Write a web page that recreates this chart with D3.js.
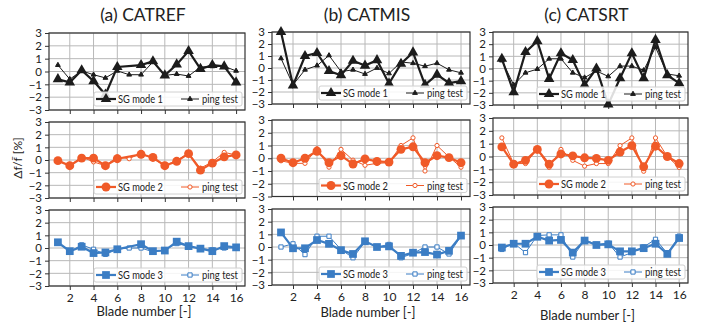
<!DOCTYPE html>
<head>
    <meta charset="utf-8">
    <script src="https://d3js.org/d3.v7.min.js"></script>
</head>
<body style="margin:0;background:#fff">
    <svg class="chart" width="709" height="329"></svg>
</body>
<script>

// blade numbers and axis ticks
var blades = [1, 2, 3, 4, 5, 6, 7, 8, 9, 10, 11, 12, 13, 14, 15, 16];
var xTicks = [2, 4, 6, 8, 10, 12, 14, 16];
var yTicks = [-3, -2, -1, 0, 1, 2, 3];
var titles = ["(a) CATREF", "(b) CATMIS", "(c) CATSRT"];
var sgNames = ["SG mode 1", "SG mode 2", "SG mode 3"];

// (a) CATREF  (blade 7 has no SG value)
var refSg1   = [-0.6, -0.85, 0.1, -0.75, -1.8, 0.35, null, 0.5, 0.8, -0.3, 0.55, 1.6, 0.2, 0.5, 0.4, -0.85];
var refPing1 = [0.5, -0.6, 0.05, -0.25, -0.5, 0.05, -0.25, -0.25, 0.75, -0.3, -0.2, -0.35, 0.35, 0.4, 0.4, 0.05];
var refSg2   = [-0.05, -0.45, 0.15, 0.15, -0.45, 0.1, null, 0.45, 0.2, -0.45, -0.1, 0.5, -0.8, -0.25, 0.25, 0.4];
var refPing2 = [-0.05, -0.45, 0.25, -0.15, -0.45, 0.25, 0.1, 0.55, 0.1, -0.45, -0.05, 0.55, -0.65, -0.15, 0.6, 0.4];
var refSg3   = [0.45, -0.25, 0.1, -0.4, -0.35, -0.1, null, 0.3, -0.25, -0.2, 0.5, 0.15, -0.05, -0.25, 0.15, 0.05];
var refPing3 = [0.45, -0.3, 0.25, -0.1, -0.5, -0.1, 0.0, 0.0, -0.3, -0.15, 0.35, 0.15, -0.05, -0.15, 0.0, 0.0];

// (b) CATMIS
var misSg1   = [3.0, -1.45, 1.0, 1.25, -0.25, -0.6, 0.6, 0.2, 0.65, -1.3, 0.35, 1.3, -1.4, -0.55, -1.25, -1.1];
var misPing1 = [0.8, -1.4, -0.15, 0.2, 1.05, -0.3, -0.15, -0.5, 0.0, -0.45, 0.5, 0.4, 0.15, 0.4, -0.15, -0.4];
var misSg2   = [0.0, -0.35, 0.0, 0.55, -0.35, 0.2, -0.45, -0.05, -0.25, -0.3, 0.7, 0.9, -0.35, 0.2, 0.05, -0.35];
var misPing2 = [-0.2, -0.4, -0.4, 0.75, -0.7, 0.7, -0.15, -0.55, -0.4, -0.35, 1.0, 1.6, -1.0, 1.0, 0.1, -0.7];
var misSg3   = [1.15, -0.1, -0.1, 0.55, 0.25, -0.25, -0.55, 0.45, 0.0, 0.05, -0.7, -0.45, -0.4, -0.6, -0.3, 0.9];
var misPing3 = [0.0, 0.25, -0.6, 0.85, 0.85, -0.2, -0.85, 0.4, 0.0, 0.2, -0.85, -0.5, 0.0, 0.0, -0.55, 0.85];

// (c) CATSRT
var srtSg1   = [0.8, -1.95, 1.35, 2.25, -0.85, 1.25, 0.7, -1.35, 0.0, -2.95, -0.8, 1.25, -0.8, 2.35, -0.55, -1.2];
var srtPing1 = [0.65, -1.35, -0.35, -0.05, 0.8, 0.8, -0.35, -0.75, -0.2, -0.65, 0.2, 0.2, -0.15, 1.75, -0.45, -0.6];
var srtSg2   = [0.75, -0.6, -0.3, 0.55, -0.6, 0.2, 0.05, -0.1, -0.15, -0.3, 0.35, 0.85, -0.8, 0.8, 0.0, -0.55];
var srtPing2 = [1.45, -0.55, -0.55, 0.55, -0.85, 0.55, -0.3, -0.75, -0.55, -0.55, 0.85, 1.45, -1.15, 1.45, 0.0, -0.85];
var srtSg3   = [-0.2, 0.1, 0.1, 0.65, 0.35, 0.4, -0.6, 0.35, 0.0, 0.05, -0.5, -0.5, -0.25, 0.1, -0.7, 0.55];
var srtPing3 = [-0.35, 0.15, -0.6, 0.75, 0.8, 0.8, -0.95, 0.4, 0.05, 0.15, -0.95, -0.6, -0.15, 0.45, -0.65, 0.7];

var sgData   = [[refSg1, refSg2, refSg3], [misSg1, misSg2, misSg3], [srtSg1, srtSg2, srtSg3]];
var pingData = [[refPing1, refPing2, refPing3], [misPing1, misPing2, misPing3], [srtPing1, srtPing2, srtPing3]];

// layout of the three columns
var cols = [
    {left: 49,  right: 245, rows: [[33, 110], [122, 198], [210, 286]], xlab: 316},
    {left: 272, right: 470, rows: [[32, 104], [120, 196.5], [209, 285]], xlab: 317},
    {left: 493, right: 688, rows: [[32, 105], [118, 195], [207, 283]], xlab: 320}
];
var colors = ["#1c1c1c", "#f05a28", "#3b7dc4"];
var symbols = [d3.symbolTriangle, d3.symbolCircle, d3.symbolSquare];
var bigSize = [48, 62, 60];
var smallSize = [10, 14, 18];
var font = "Lato, 'Open Sans', sans-serif";

var chart = d3.select(".chart");

cols.forEach(function(c, ci) {
    var x = d3.scaleLinear().domain([0.25, 16.75]).range([c.left, c.right]);

    chart.append("text")
        .attr("x", (c.left + c.right) / 2 - 4)
        .attr("y", 21)
        .attr("text-anchor", "middle")
        .style("font", "17.5px " + font)
        .style("fill", "#222")
        .text(titles[ci]);

    c.rows.forEach(function(r, ri) {
        var y = d3.scaleLinear().domain([-3, 3]).range([r[1], r[0]]);
        var g = chart.append("g");

        // grid
        g.selectAll("line.gx").data(xTicks).enter().append("line")
            .attr("x1", d => x(d)).attr("x2", d => x(d))
            .attr("y1", r[0]).attr("y2", r[1])
            .style("stroke", "#b8b8b8").style("stroke-width", 1);
        g.selectAll("line.gy").data(yTicks).enter().append("line")
            .attr("x1", c.left).attr("x2", c.right)
            .attr("y1", d => y(d)).attr("y2", d => y(d))
            .style("stroke", "#b8b8b8").style("stroke-width", 1);

        // axes
        var yAxis = d3.axisLeft(y).tickValues(yTicks).tickSize(4).tickPadding(3)
            .tickFormat(d => d < 0 ? "\u2212" + Math.abs(d) : d);
        var ya = g.append("g").attr("transform", "translate(" + c.left + ",0)").call(yAxis);
        var xAxis = d3.axisBottom(x).tickValues(xTicks).tickSize(4).tickPadding(3)
            .tickFormat(ri == 2 ? d3.format("d") : "");
        var xa = g.append("g").attr("transform", "translate(0," + r[1] + ")").call(xAxis);
        [ya, xa].forEach(function(a) {
            a.select(".domain").remove();
            a.selectAll("line").style("stroke", "#333");
            a.selectAll("text").style("font", "11.5px " + font).style("fill", "#222");
        });
        xa.selectAll("text").style("font", "12px " + font);

        // frame
        g.append("rect")
            .attr("x", c.left).attr("y", r[0])
            .attr("width", c.right - c.left).attr("height", r[1] - r[0])
            .style("fill", "none").style("stroke", "#333").style("stroke-width", 1.2);

        var col = colors[ri];
        var sg = blades.map((b, i) => [b, sgData[ci][ri][i]]).filter(d => d[1] != null);
        var ping = blades.map((b, i) => [b, pingData[ci][ri][i]]);
        var line = d3.line().x(d => x(d[0])).y(d => y(d[1]));

        // ping test: thin line with small open markers
        g.append("path").attr("d", line(ping))
            .style("fill", "none").style("stroke", col).style("stroke-width", 1);
        g.selectAll("path.pm").data(ping).enter().append("path")
            .attr("transform", d => "translate(" + x(d[0]) + "," + y(d[1]) + ")")
            .attr("d", d3.symbol().type(symbols[ri]).size(smallSize[ri]))
            .style("fill", ri == 0 ? col : "#fff").style("stroke", col).style("stroke-width", 1);

        // SG: thick line with large filled markers
        g.append("path").attr("d", line(sg))
            .style("fill", "none").style("stroke", col).style("stroke-width", 2.2);
        g.selectAll("path.sm").data(sg).enter().append("path")
            .attr("transform", d => "translate(" + x(d[0]) + "," + y(d[1]) + ")")
            .attr("d", d3.symbol().type(symbols[ri]).size(bigSize[ri]))
            .style("fill", col);

        // legend
        var L = c.right - 151, T = r[1] - 18;
        var lg = g.append("g").attr("transform", "translate(" + L + "," + T + ")");
        lg.append("rect").attr("width", 148).attr("height", 14).attr("rx", 2)
            .style("fill", "#fff").style("fill-opacity", 0.85)
            .style("stroke", "#d0d0d0").style("stroke-width", 1);
        lg.append("line").attr("x1", 2).attr("x2", 22).attr("y1", 7).attr("y2", 7)
            .style("stroke", col).style("stroke-width", 2.2);
        lg.append("path").attr("transform", "translate(12,7)")
            .attr("d", d3.symbol().type(symbols[ri]).size(bigSize[ri])).style("fill", col);
        lg.append("text").attr("x", 24).attr("y", 11)
            .attr("textLength", 45).attr("lengthAdjust", "spacingAndGlyphs")
            .style("font", "11px " + font).style("fill", "#222").text(sgNames[ri]);
        lg.append("line").attr("x1", 87).attr("x2", 105).attr("y1", 7).attr("y2", 7)
            .style("stroke", col).style("stroke-width", 1);
        lg.append("path").attr("transform", "translate(96,7)")
            .attr("d", d3.symbol().type(symbols[ri]).size(smallSize[ri]))
            .style("fill", ri == 0 ? col : "#fff").style("stroke", col).style("stroke-width", 1);
        lg.append("text").attr("x", 108).attr("y", 11)
            .attr("textLength", 36).attr("lengthAdjust", "spacingAndGlyphs")
            .style("font", "11px " + font).style("fill", "#222").text("ping test");
    });

    chart.append("text")
        .attr("x", (c.left + c.right) / 2 - 3)
        .attr("y", c.xlab)
        .attr("text-anchor", "middle")
        .style("font", "13px " + font)
        .style("fill", "#222")
        .text("Blade number [-]");
});

// y label
chart.append("text")
    .attr("transform", "translate(22,158) rotate(-90)")
    .attr("text-anchor", "middle")
    .style("font", "12px " + font)
    .style("fill", "#222")
    .text("\u0394f/f\u0304 [%]");

</script>
